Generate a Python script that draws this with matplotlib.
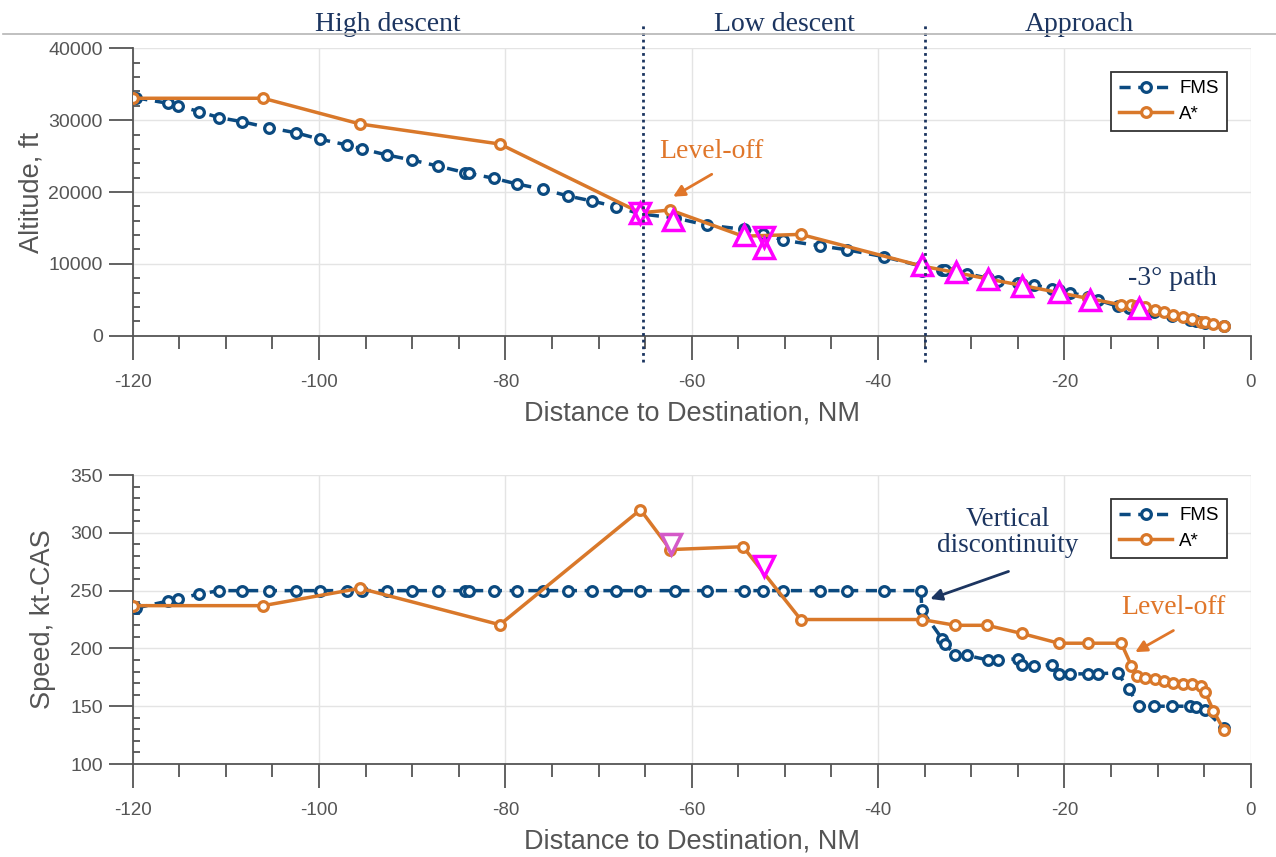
import matplotlib
matplotlib.use('Agg')
import matplotlib.pyplot as plt
import matplotlib.transforms as mtransforms
from matplotlib.lines import Line2D
from matplotlib.ticker import MultipleLocator

plt.rcParams['axes.unicode_minus'] = False
plt.rcParams['font.family'] = ['Liberation Sans', 'DejaVu Sans']

# ---------------- data ----------------
fms_dist = [-119.6, -116.2, -115.1, -112.9, -110.7, -108.3, -105.4, -102.5, -99.9, -97.0,
            -95.4, -92.7, -90.0, -87.2, -84.3, -83.9, -81.2, -78.7, -76.0, -73.3,
            -70.7, -68.1, -65.5, -61.8, -58.4, -54.4, -52.3, -50.2, -46.2, -43.3,
            -39.4, -35.4, -35.3, -33.1, -32.8, -31.7, -30.5, -28.2, -27.1, -25.0,
            -24.6, -23.3, -21.3, -20.6, -19.4, -17.5, -16.4, -14.3, -13.1, -12.0,
            -10.4, -8.4, -6.5, -5.9, -4.9, -2.9]
fms_alt = [33100, 32350, 32000, 31200, 30350, 29800, 28950, 28250, 27350, 26550,
           26000, 25150, 24450, 23600, 22700, 22600, 21900, 21100, 20400, 19450,
           18750, 17950, 16950, 16400, 15400, 14800, 14150, 13300, 12500, 11950,
           11000, 9700, 9000, 9150, 9100, 8800, 8650, 8000, 7650, 7300,
           7250, 7050, 6550, 6350, 6000, 5450, 4970, 4100, 3900, 3650,
           3250, 2750, 2250, 2100, 1800, 1300]
fms_speed = [235, 241, 243, 247, 250, 250, 250, 250, 250, 250,
             250, 250, 250, 250, 250, 250, 250, 250, 250, 250,
             250, 250, 250, 250, 250, 250, 250, 250, 250, 250,
             250, 250, 233, 208, 204, 194, 194, 190, 190, 191,
             186, 185, 186, 178, 178, 178, 178, 179, 165, 150,
             150, 150, 150, 149, 147, 131]

astar_dist = [-120.0, -106.0, -95.6, -80.6, -65.5, -62.3, -54.5, -48.3, -35.3, -31.7,
              -28.3, -24.6, -20.6, -17.5, -13.9, -12.8, -12.2, -11.3, -10.3, -9.3,
              -8.3, -7.3, -6.3, -5.3, -4.9, -4.0, -2.9]
astar_alt = [33050, 33050, 29470, 26680, 17100, 17500, 13850, 14100, 9700, 8800,
             7920, 7010, 5990, 5200, 4300, 4280, 4120, 3950, 3640, 3290,
             2910, 2590, 2260, 1950, 1850, 1660, 1340]
astar_speed = [237, 237, 252, 220.5, 320, 285.5, 288, 225, 225, 220,
               220, 213, 204.5, 204.5, 204.5, 185, 176, 174.7, 173.3, 171.8,
               170.4, 169.6, 169, 167.5, 162.3, 146, 129.6]

# altitude constraints (at-or-above ^ / at-or-below v)
alt_above_dist = [-65.5, -62.0, -54.4, -52.2, -35.3, -31.6, -28.2, -24.5, -20.6, -17.3, -12.0]
alt_above_val = [17080, 16100, 14020, 12170, 9840, 8910, 7850, 6920, 6120, 4970, 3810]
alt_below_dist = [-65.5, -52.2]
alt_below_val = [17080, 13780]
# speed constraints (at-or-below)
spd_below_dist = [-62.25, -52.2]
spd_below_val = [290, 271]
spd_below_colors = ['#d45ac8', '#ff00ff']

phase_names = ['High descent', 'Low descent', 'Approach']
phase_label_x = [-92.6, -50.1, -18.4]
phase_bounds = [-65.2, -35.0]

# ---------------- style ----------------
BLUE = '#0b4a80'
ORANGE = '#d9782a'
MAGENTA = '#ff00ff'
NAVY = '#1c3560'
TXT_OR = '#e0762a'
AXC = '#555555'
SERIF = ['Liberation Serif', 'DejaVu Serif']

fig = plt.figure(figsize=(12.76, 8.57), dpi=100)
ax1 = fig.add_axes([0.104, 0.6083, 0.8762, 0.3353])
ax2 = fig.add_axes([0.104, 0.1085, 0.8762, 0.3372])


def style_axes(ax, ymin, ymax, ymajor, yminor, ylabel, ylabelpad):
    ax.set_xlim(-120, 0)
    ax.set_ylim(ymin, ymax)
    ax.xaxis.set_major_locator(MultipleLocator(20))
    ax.xaxis.set_minor_locator(MultipleLocator(5))
    ax.yaxis.set_major_locator(MultipleLocator(ymajor))
    ax.yaxis.set_minor_locator(MultipleLocator(yminor))
    for s in ['top', 'right']:
        ax.spines[s].set_visible(False)
    for s in ['left', 'bottom']:
        ax.spines[s].set_color(AXC)
        ax.spines[s].set_linewidth(1.3)
    ax.tick_params(axis='both', which='major', direction='out', length=17,
                   width=1.3, color=AXC, labelcolor=AXC)
    ax.tick_params(axis='x', which='major', pad=10.5, labelsize=13.5)
    ax.tick_params(axis='y', which='major', pad=4.5, labelsize=14)
    ax.tick_params(axis='x', which='minor', direction='out', length=9,
                   width=1.3, color=AXC)
    ax.tick_params(axis='y', which='minor', direction='in', length=5,
                   width=1.3, color=AXC)
    ax.grid(True, which='major', color='#e4e4e4', lw=1.0, zorder=0)
    ax.set_axisbelow(True)
    ax.set_xlabel('Distance to Destination, NM', fontsize=19.5, color=AXC, labelpad=7)
    ax.set_ylabel(ylabel, fontsize=19.5, color=AXC, labelpad=ylabelpad)


def draw_series(ax, yf, ya):
    ax.plot(fms_dist, yf, color=BLUE, lw=2.5, linestyle=(0, (3.2, 2.2)),
            marker='o', ms=7, mew=2.3, mfc='white', mec=BLUE, zorder=3, label='FMS')
    ax.plot(astar_dist, ya, color=ORANGE, lw=2.5, linestyle='-',
            marker='o', ms=7, mew=2.3, mfc='white', mec=ORANGE, zorder=4, label='A*')
    leg = ax.legend(loc='upper right', bbox_to_anchor=(0.979, 0.918), fancybox=False,
                    edgecolor='#333333', framealpha=1, fontsize=13.5, handlelength=2.8,
                    borderaxespad=0, borderpad=0.45, labelspacing=0.45, handletextpad=0.4)
    leg.get_frame().set_linewidth(1.3)
    leg.set_zorder(10)


# ---------------- top: altitude ----------------
style_axes(ax1, 0, 40000, 10000, 2000, 'Altitude, ft', 3)
draw_series(ax1, fms_alt, astar_alt)
ax1.plot(alt_above_dist, alt_above_val, linestyle='none', marker='^', ms=14.5, mew=2.5,
         mfc='white', mec=MAGENTA, zorder=6)
ax1.plot(alt_below_dist, alt_below_val, linestyle='none', marker='v', ms=14.5, mew=2.5,
         mfc='none', mec=MAGENTA, zorder=6)

# phase boundaries and labels
tr1 = mtransforms.blended_transform_factory(ax1.transData, ax1.transAxes)
for xb in phase_bounds:
    ax1.plot([xb, xb], [-0.0915, 1.0926], transform=tr1, color=NAVY, lw=2.0,
             linestyle=(0, (1, 1.4)), clip_on=False, zorder=7)
for name, xp in zip(phase_names, phase_label_x):
    ax1.text(xp, 1.082, name, transform=tr1, ha='center', va='center',
             fontsize=20, color=NAVY, family=SERIF)

# separator line across figure
fig.add_artist(Line2D([0.002, 1.0], [0.96, 0.96], transform=fig.transFigure,
                      color='#b5b5b5', lw=1.2))

ax1.text(-57.9, 25613, 'Level-off', ha='center', va='center', fontsize=20,
         color=TXT_OR, family=SERIF, zorder=8)
ax1.annotate('', xy=(-62.0, 19350), xytext=(-57.85, 22470),
             arrowprops=dict(arrowstyle='-|>', color=TXT_OR, lw=2.0, mutation_scale=17,
                             shrinkA=0, shrinkB=0), zorder=8)
ax1.text(-8.4, 7990, '-3° path', ha='center', va='center', fontsize=20,
         color=NAVY, family=SERIF, zorder=8)

# ---------------- bottom: speed ----------------
style_axes(ax2, 100, 350, 50, 10, 'Speed, kt-CAS', 10)
draw_series(ax2, fms_speed, astar_speed)
for xd, yv, c in zip(spd_below_dist, spd_below_val, spd_below_colors):
    ax2.plot([xd], [yv], linestyle='none', marker='v', ms=14, mew=2.5,
             mfc='white', mec=c, zorder=6)

ax2.text(-26.1, 300.3, 'Vertical\ndiscontinuity', ha='center', va='center',
         fontsize=19.5, color=NAVY, family=SERIF, linespacing=1.05, zorder=8)
ax2.annotate('', xy=(-34.4, 242.8), xytext=(-26.0, 266.6),
             arrowprops=dict(arrowstyle='-|>', color=NAVY, lw=2.0, mutation_scale=17,
                             shrinkA=0, shrinkB=0), zorder=8)
ax2.text(-8.3, 235.6, 'Level-off', ha='center', va='center', fontsize=20,
         color=TXT_OR, family=SERIF, zorder=8)
ax2.annotate('', xy=(-12.4, 196.8), xytext=(-8.3, 215.5),
             arrowprops=dict(arrowstyle='-|>', color=TXT_OR, lw=2.0, mutation_scale=17,
                             shrinkA=0, shrinkB=0), zorder=8)

fig.savefig('out.png', dpi=100)
